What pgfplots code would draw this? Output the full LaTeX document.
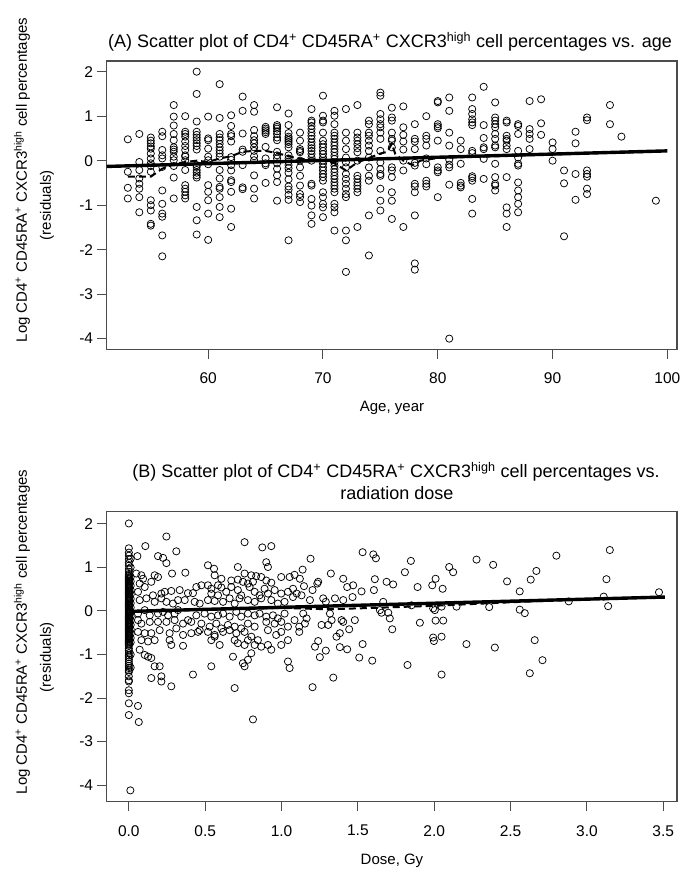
\documentclass[border=0pt]{standalone}
\usepackage{fontspec}
\setmainfont{Liberation Sans}
\usepackage{pgfplots}
\pgfplotsset{compat=1.18}
\begin{document}
\begin{tikzpicture}
\useasboundingbox (0pt,0pt) rectangle (683pt,-878pt);
\pgfplotsset{
 myax/.style={scale only axis, width=570.3pt,
  axis line style={black!70,line width=1.1pt},
  tick style={black!70,line width=1pt},
  major tick length=9.4pt, tick align=outside,
  xtick pos=bottom, ytick pos=left,
  ytick={-4,-3,-2,-1,0,1,2}, yticklabels={-4,-3,-2,-1,0,1,2},
  tick label style={font=\fontsize{15.5}{18}\selectfont},
  xticklabel style={inner sep=0pt, anchor=north, yshift=-14pt},
  yticklabel style={inner sep=0pt, anchor=east, xshift=-4pt},
  clip=false},
 pts/.style={only marks, mark=o, mark size=3.6pt, mark options={line width=0.75pt, black}},
 fitl/.style={no marks, black, line width=3.4pt},
 lowl/.style={no marks, black, line width=2pt, dash pattern=on 7pt off 4pt},
}
% ---------------- Panel A ----------------
\begin{axis}[myax, at={(106.7pt,-349.3pt)}, anchor=south west, height=288.3pt,
  xmin=51.16, xmax=100.84, ymin=-4.24, ymax=2.24,
  xtick={60,70,80,90,100}, xticklabels={60,70,80,90,100}]
\addplot[pts] coordinates {
(53,0.48) (53,-0.25) (53,-0.61) (53,-0.85)
(54,0.6) (54,-0.03) (54,-0.21) (54,-0.4) (54,-0.52) (54,-0.63) (54,-0.82) (54,-1.16)
(55,0.52) (55,0.45) (55,0.39) (55,0.32) (55,0.27) (55,0.16) (55,0.05) (55,-0.06) (55,-0.12) (55,-0.25) (55,-0.89) (55,-1.0) (55,-1.12) (55,-1.42) (55,-1.46)
(56,0.65) (56,0.55) (56,0.24) (56,0.12) (56,0.05) (56,-0.14) (56,-0.67) (56,-0.97) (56,-1.19) (56,-1.26) (56,-1.68) (56,-2.15)
(57,1.25) (57,0.99) (57,0.79) (57,0.6) (57,0.46) (57,0.3) (57,0.25) (57,0.2) (57,0.09) (57,0.01) (57,-0.12) (57,-0.38) (57,-0.85)
(58,1.0) (58,0.65) (58,0.6) (58,0.54) (58,0.43) (58,0.33) (58,0.24) (58,0.12) (58,0.09) (58,0.01) (58,-0.21) (58,-0.55) (58,-0.63) (58,-0.7) (58,-0.78) (58,-0.85)
(59,2.0) (59,1.5) (59,0.88) (59,0.65) (59,0.58) (59,0.52) (59,0.46) (59,0.39) (59,0.33) (59,0.25) (59,-0.1) (59,-0.14) (59,-0.21) (59,-0.27) (59,-0.33) (59,-0.38) (59,-1.04) (59,-1.34) (59,-1.66)
(60,0.99) (60,0.5) (60,0.46) (60,0.27) (60,0.09) (60,0.01) (60,-0.08) (60,-0.55) (60,-0.7) (60,-0.89) (60,-1.19) (60,-1.78)
(61,1.72) (61,0.96) (61,0.6) (61,0.52) (61,0.46) (61,0.38) (61,0.3) (61,0.23) (61,0.16) (61,0.09) (61,-0.21) (61,-0.4) (61,-0.59) (61,-0.63) (61,-0.82) (61,-1.04) (61,-1.27)
(62,1.02) (62,0.78) (62,0.6) (62,0.55) (62,0.43) (62,0.08) (62,0.02) (62,-0.1) (62,-0.22) (62,-0.44) (62,-0.48) (62,-0.7) (62,-1.08) (62,-1.49)
(63,1.44) (63,1.12) (63,0.61) (63,0.25) (63,0.2) (63,-0.1) (63,-0.6) (63,-0.64)
(64,1.25) (64,1.1) (64,0.69) (64,0.55) (64,0.46) (64,0.39) (64,0.3) (64,0.22) (64,0.1) (64,0.01) (64,-0.33) (64,-0.63) (64,-0.85)
(65,0.76) (65,0.72) (65,0.68) (65,0.64) (65,0.6) (65,0.31) (65,0.05) (65,-0.06) (65,-0.1) (65,-0.5)
(66,1.2) (66,0.8) (66,0.76) (66,0.72) (66,0.66) (66,0.6) (66,0.52) (66,0.46) (66,0.2) (66,0.12) (66,0.05) (66,-0.06) (66,-0.18) (66,-0.33) (66,-0.48) (66,-0.9)
(67,1.06) (67,0.8) (67,0.62) (67,0.54) (67,0.5) (67,0.46) (67,0.42) (67,0.37) (67,0.3) (67,0.12) (67,0.05) (67,-0.02) (67,-0.1) (67,-0.17) (67,-0.27) (67,-0.42) (67,-0.58) (67,-0.65) (67,-0.77) (67,-0.88) (67,-1.79)
(68,0.63) (68,0.45) (68,0.26) (68,0.22) (68,0.19) (68,0) (68,-0.15) (68,-0.34) (68,-0.56) (68,-0.75) (68,-0.82) (68,-0.93)
(69,1.16) (69,0.9) (69,0.86) (69,0.78) (69,0.71) (69,0.63) (69,0.56) (69,0.49) (69,0.41) (69,0.34) (69,0.28) (69,0.22) (69,0.15) (69,0.07) (69,0) (69,-0.52) (69,-0.56) (69,-0.86) (69,-1.01) (69,-1.23) (69,-1.42)
(70,1.46) (70,1.01) (70,0.9) (70,0.86) (70,0.63) (70,0.45) (70,0.37) (70,0.3) (70,0.22) (70,0.15) (70,0.07) (70,0) (70,-0.07) (70,-0.15) (70,-0.22) (70,-0.3) (70,-0.37) (70,-0.45) (70,-0.71) (70,-0.82) (70,-0.97) (70,-1.05) (70,-1.27)
(71,1.12) (71,1.01) (71,0.82) (71,0.63) (71,0.56) (71,0.49) (71,0.41) (71,0.34) (71,0.26) (71,0.19) (71,0.11) (71,0.04) (71,-0.04) (71,-0.11) (71,-0.19) (71,-0.26) (71,-0.34) (71,-0.41) (71,-0.49) (71,-0.56) (71,-0.63) (71,-0.71) (71,-0.97) (71,-1.05) (71,-1.16) (71,-1.57)
(72,1.16) (72,0.63) (72,0.45) (72,0.26) (72,0.07) (72,-0.04) (72,-0.15) (72,-0.3) (72,-0.41) (72,-0.52) (72,-0.63) (72,-0.75) (72,-0.82) (72,-1.57) (72,-1.79) (72,-2.5)
(73,1.25) (73,0.63) (73,0.52) (73,0.45) (73,0.37) (73,0.28) (73,0.19) (73,0) (73,-0.34) (73,-0.41) (73,-0.49) (73,-0.56) (73,-0.63) (73,-0.71) (73,-1.49)
(74,0.9) (74,0.82) (74,0.63) (74,0.56) (74,0.45) (74,0.34) (74,0.22) (74,0.07) (74,-0.15) (74,-0.34) (74,-0.45) (74,-1.23) (74,-2.13)
(75,1.53) (75,1.46) (75,1.05) (75,0.93) (75,0.82) (75,0.75) (75,0.63) (75,0.49) (75,0.22) (75,-0.04) (75,-0.19) (75,-0.3) (75,-0.34) (75,-0.63) (75,-0.9) (75,-1.12)
(76,1.19) (76,0.97) (76,0.9) (76,0.63) (76,0.49) (76,0.45) (76,0.3) (76,-0.15) (76,-0.22) (76,-0.37) (76,-0.71) (76,-0.9) (76,-1.31)
(77,1.22) (77,0.75) (77,0.58) (77,0.43) (77,0.25) (77,0) (77,-0.22) (77,-1.49)
(78,0.82) (78,0.49) (78,0.43) (78,0.26) (78,-0.05) (78,-0.11) (78,-0.52) (78,-0.58) (78,-0.71) (78,-1.23) (78,-2.31) (78,-2.45)
(79,1.0) (79,0.56) (79,0.49) (79,0.34) (79,0.05) (79,-0.08) (79,-0.45) (79,-0.52) (79,-0.58)
(80,1.34) (80,1.31) (80,0.82) (80,0.77) (80,0.73) (80,0.45) (80,-0.15) (80,-0.22) (80,-0.26) (80,-0.82)
(81,1.42) (81,1.12) (81,0.63) (81,0.34) (81,0.02) (81,-0.09) (81,-0.15) (81,-0.54) (81,-4.0)
(82,0.45) (82,0.26) (82,-0.07) (82,-0.5) (82,-0.56) (82,-0.6)
(83,1.42) (83,1.16) (83,1.05) (83,0.93) (83,0.86) (83,0.8) (83,0.22) (83,0.17) (83,-0.35) (83,-0.39) (83,-0.45) (83,-0.86) (83,-1.19)
(84,1.66) (84,0.8) (84,0.51) (84,0.3) (84,0.26) (84,0.04) (84,-0.41)
(85,1.31) (85,0.97) (85,0.9) (85,0.82) (85,0.75) (85,0.6) (85,0.49) (85,0.34) (85,0.3) (85,-0.07) (85,-0.37) (85,-0.52) (85,-0.56) (85,-0.67)
(86,0.9) (86,0.86) (86,0.56) (86,0.49) (86,0.45) (86,0.34) (86,0.26) (86,-0.37) (86,-1.05) (86,-1.19) (86,-1.49)
(87,0.82) (87,0.78) (87,0.6) (87,0.22) (87,0.07) (87,-0.07) (87,-0.11) (87,-0.49) (87,-0.67) (87,-0.82) (87,-0.97) (87,-1.16)
(88,1.34) (88,0.71) (88,0.6) (88,0.49) (88,0.26)
(89,1.38) (89,0.84) (89,0.58)
(90,0.41) (90,0.26) (90,0.0)
(91,-0.22) (91,-0.51) (91,-1.7)
(92,0.65) (92,0.39) (92,-0.3) (92,-0.88)
(93,0.97) (93,0.91) (93,-0.22) (93,-0.3) (93,-0.36) (93,-0.63) (93,-0.75)
(95,1.25) (95,0.82) (96,0.54) (99,-0.9)
};
\addplot[fitl] coordinates {(51.16,-0.13) (100.0,0.22)};
\addplot[lowl] coordinates {(53,-0.36) (55,-0.36) (56,-0.18) (57,-0.08) (58,-0.03) (59,0.0) (60,-0.03) (61,0.05) (62,0.1) (63,0.2) (64,0.22) (65,0.22) (66,0.17) (67,0.1) (68,0.04) (69,0.03) (70,0.02) (71,-0.06) (72,-0.22) (73,-0.04) (74,0.06) (75,0.16) (75.6,0.2) (76,0.38) (76.3,0.15) (77,0.0) (77.8,-0.1) (78.5,0.0) (80,0.06) (82,0.08) (85,0.1) (90,0.14) (95,0.18) (99,0.2)};
\end{axis}
% ---------------- Panel B ----------------
\begin{axis}[myax, at={(106.7pt,-801.7pt)}, anchor=south west, height=290pt,
  xmin=-0.145, xmax=3.59, ymin=-4.38, ymax=2.28,
  xtick={0,0.5,1,1.5,2,2.5,3,3.5}, xticklabels={0.0,0.5,1.0,1.5,2.0,2.5,3.0,3.5}]
\addplot[pts] coordinates {
(0,2.01) (0,1.44) (0,1.34) (0,1.27) (0,1.19) (0,1.11) (0,1.04) (0,0.96) (0,0.9)
(0,0.85) (0,0.825) (0,0.8) (0,0.775) (0,0.75) (0,0.725) (0,0.7) (0,0.675) (0,0.65) (0,0.625) (0,0.6) (0,0.575) (0,0.55) (0,0.525) (0,0.5) (0,0.475) (0,0.45) (0,0.425) (0,0.4) (0,0.375) (0,0.35) (0,0.325) (0,0.3) (0,0.275) (0,0.25) (0,0.225) (0,0.2) (0,0.175) (0,0.15) (0,0.125) (0,0.1) (0,0.075) (0,0.05) (0,0.025) (0,0)
(0,-0.025) (0,-0.05) (0,-0.075) (0,-0.1) (0,-0.125) (0,-0.15) (0,-0.175) (0,-0.2) (0,-0.225) (0,-0.25) (0,-0.275) (0,-0.3) (0,-0.325) (0,-0.35) (0,-0.375) (0,-0.4) (0,-0.425) (0,-0.45) (0,-0.475) (0,-0.5) (0,-0.525) (0,-0.55) (0,-0.575) (0,-0.6) (0,-0.625) (0,-0.65) (0,-0.675) (0,-0.7) (0,-0.725) (0,-0.75) (0,-0.775) (0,-0.8)
(0,-0.86) (0,-0.91) (0,-0.97) (0,-1.02) (0,-1.06) (0,-1.11) (0,-1.16) (0,-1.21) (0,-1.26) (0,-1.31) (0,-1.36) (0,-1.4) (0,-1.5) (0,-1.59) (0,-1.62) (0,-1.82) (0,-1.89) (0,-2.12) (0,-2.39)
(0.012,1.2) (0.012,1.0) (0.012,0.78) (0.012,0.68) (0.012,0.58) (0.012,0.48) (0.012,0.38) (0.012,0.28) (0.012,0.18) (0.012,0.08) (0.012,-0.02) (0.012,-0.12) (0.012,-0.22) (0.012,-0.32) (0.012,-0.42) (0.012,-0.52) (0.012,-0.62) (0.012,-0.72) (0.012,-1.0) (0.012,-1.3)
(0.01,-4.12) (0.06,-2.18) (0.065,-2.55)
(0.108,1.49) (0.246,1.71) (0.311,1.37) (0.056,1.26) (0.191,1.26) (0.224,1.22) (0.246,1.10) (0.758,1.58) (0.874,1.46) (0.933,1.49) (0.518,1.05) (0.558,0.97) (0.714,1.01) (0.9,1.12) (0.911,1.01) (0.37,0.88) (0.283,0.86) (0.169,0.82) (0.191,0.78) (0.562,0.82) (0.606,0.74) (0.758,0.86) (0.802,0.82) (0.834,0.80) (0.867,0.78) (0.9,0.70) (0.933,0.65) (0.998,0.78) (1.053,0.78) (1.085,0.83) (0.671,0.70) (0.714,0.72) (0.747,0.67) (0.78,0.63) (0.813,0.67) (0.049,0.86) (0.082,0.82) (0.093,0.74) (0.071,0.63) (0.147,0.67) (0.104,0.55) (0.06,0.44) (0.158,0.36) (0.213,0.40) (0.235,0.44) (0.278,0.46) (0.333,0.48) (0.387,0.41) (0.42,0.41) (0.442,0.55) (0.475,0.59) (0.518,0.59) (0.54,0.51) (0.584,0.59) (0.606,0.54) (0.54,0.40) (0.584,0.36) (0.638,0.44) (0.671,0.55) (0.714,0.48) (0.736,0.36) (0.791,0.55) (0.824,0.44) (0.856,0.36) (0.889,0.51) (0.911,0.40) (0.955,0.48) (0.998,0.40) (1.042,0.44) (1.075,0.51)
(0.071,0.25) (0.115,0.29) (0.169,0.21) (0.213,0.29) (0.246,0.21) (0.289,0.17) (0.322,0.25) (0.366,0.25) (0.431,0.21) (0.464,0.17) (0.518,0.25) (0.562,0.23) (0.617,0.21) (0.66,0.29) (0.693,0.17) (0.725,0.29) (0.78,0.25) (0.824,0.21) (0.867,0.29) (0.933,0.25) (0.976,0.17) (1.02,0.21) (1.075,0.32)
(0.06,-0.06) (0.104,0.02) (0.137,-0.10) (0.191,-0.06) (0.224,-0.02) (0.257,-0.10) (0.3,-0.06) (0.322,0.02) (0.387,-0.21) (0.442,-0.10) (0.496,-0.06) (0.54,-0.13) (0.584,-0.10) (0.617,-0.06) (0.66,-0.13) (0.704,-0.02) (0.736,-0.13) (0.78,-0.06) (0.824,-0.10) (0.856,-0.06) (0.9,-0.13) (0.944,-0.10) (0.976,-0.17) (1.02,-0.06) (1.085,-0.21)
(0.06,-0.21) (0.082,-0.29) (0.137,-0.25) (0.191,-0.25) (0.246,-0.25) (0.3,-0.21) (0.355,-0.29) (0.409,-0.25) (0.475,-0.29) (0.529,-0.36) (0.573,-0.29) (0.606,-0.40) (0.649,-0.32) (0.693,-0.36) (0.736,-0.40) (0.78,-0.29) (0.824,-0.36) (0.9,-0.25) (0.955,-0.29) (0.998,-0.25) (1.042,-0.36)
(0.06,-0.48) (0.104,-0.51) (0.147,-0.51) (0.202,-0.44) (0.267,-0.51) (0.311,-0.40) (0.355,-0.55) (0.409,-0.51) (0.464,-0.44) (0.518,-0.48) (0.562,-0.55) (0.617,-0.48) (0.66,-0.44) (0.704,-0.51) (0.758,-0.48) (0.802,-0.59) (0.845,-0.67) (0.911,-0.44) (0.965,-0.55) (0.998,-0.48)
(0.082,-0.67) (0.126,-0.70) (0.169,-0.67) (0.267,-0.67) (0.278,-0.78) (0.355,-0.80) (0.453,-0.48) (0.54,-0.67) (0.562,-0.59) (0.595,-0.78) (0.693,-0.67) (0.714,-0.74) (0.758,-0.78) (0.78,-0.67) (0.824,-0.78) (0.867,-0.82) (0.911,-0.78) (0.933,-0.89) (0.998,-0.78) (1.042,-0.67)
(0.071,-0.89) (0.104,-1.01) (0.126,-1.05) (0.147,-1.08) (0.169,-1.27) (0.202,-1.27) (0.147,-1.54) (0.213,-1.50) (0.213,-1.62) (0.278,-1.73) (0.42,-1.46) (0.54,-1.27) (0.682,-1.05) (0.693,-1.77) (0.747,-1.20) (0.758,-1.27) (0.78,-1.12) (0.802,-0.97) (1.042,-1.16) (1.053,-1.31) (0.813,-2.49)
(1.531,1.35) (1.601,1.30) (1.618,1.21) (1.847,1.15) (2.277,1.18) (1.19,1.20) (2.098,1.01) (2.124,0.89) (1.808,0.89) (2.009,0.74) (1.987,0.59) (1.891,0.55) (2.055,0.51) (1.688,0.67) (1.731,0.61) (1.611,0.73) (1.404,0.74) (1.469,0.59) (1.43,0.55) (1.524,0.45) (1.605,0.48) (1.323,0.86) (1.24,0.67) (1.234,0.63) (1.203,0.48) (1.147,0.57) (1.138,0.95) (1.12,0.74) (1.186,0.25) (1.099,0.40) (1.131,0.36) (1.273,0.29) (1.29,0.21) (1.35,0.29) (1.404,0.25) (1.465,0.32) (1.666,0.21) (1.851,0.13) (1.993,0.06) (2.004,0.02) (2.048,0.10) (2.146,0.10)
(1.142,-0.06) (1.164,-0.17) (1.116,-0.36) (1.153,-0.29) (1.116,-0.48) (1.317,-0.06) (1.328,-0.21) (1.306,-0.32) (1.262,-0.32) (1.393,-0.21) (1.404,-0.25) (1.48,-0.21) (1.644,0.02) (1.655,-0.04) (1.699,-0.04) (1.709,-0.17) (1.725,-0.42) (1.906,-0.27) (2.009,-0.22) (2.059,-0.22) (1.443,-0.42) (1.382,-0.51) (1.36,-0.59) (1.24,-0.69) (1.219,-0.82) (1.29,-0.91) (1.251,-1.06) (1.382,-0.83) (1.43,-0.88) (1.531,-0.76) (1.509,-1.07) (1.594,-1.14) (1.993,-0.61) (1.998,-0.69) (2.048,-0.59) (2.211,-0.76) (1.825,-1.24) (2.048,-1.46) (1.339,-1.53) (1.203,-1.75)
(2.36,0.09) (2.386,1.06) (2.397,-0.84) (2.477,0.68) (2.56,0.45) (2.56,0.03) (2.593,-0.05) (2.626,-1.43) (2.632,0.72) (2.658,-0.67) (2.669,0.92) (2.709,-1.13) (2.8,1.27) (2.881,0.22) (3.11,0.33) (3.128,0.73) (3.139,0.11) (3.15,1.40) (3.472,0.43)
};
\addplot[fitl] coordinates {(0,-0.01) (3.51,0.32)};
\addplot[lowl] coordinates {(0,-0.02) (0.3,0.01) (0.6,0.04) (1.0,0.07) (1.3,0.04) (1.6,0.07) (2.0,0.12) (2.5,0.2) (3.0,0.27) (3.47,0.32)};
\end{axis}
% ---------------- texts ----------------
\node[font=\fontsize{18}{21.6}\selectfont] at (390pt,-42pt) {(A) Scatter plot of CD4\textsuperscript{+} CD45RA\textsuperscript{+} CXCR3\textsuperscript{high} cell percentages vs. age};
\node[font=\fontsize{15}{18}\selectfont] at (392pt,-408pt) {Age, year};
\node[rotate=90,font=\fontsize{15}{18}\selectfont] at (22pt,-180pt) {Log CD4\textsuperscript{+} CD45RA\textsuperscript{+} CXCR3\textsuperscript{high} cell percentages};
\node[rotate=90,font=\fontsize{15}{18}\selectfont] at (47pt,-205pt) {(residuals)};
\node[font=\fontsize{18}{21.6}\selectfont] at (396pt,-471.5pt) {(B) Scatter plot of CD4\textsuperscript{+} CD45RA\textsuperscript{+} CXCR3\textsuperscript{high} cell percentages vs.};
\node[font=\fontsize{18}{21.6}\selectfont] at (397pt,-493.5pt) {radiation dose};
\node[font=\fontsize{15}{18}\selectfont] at (392pt,-861pt) {Dose, Gy};
\node[rotate=90,font=\fontsize{15}{18}\selectfont] at (22pt,-632pt) {Log CD4\textsuperscript{+} CD45RA\textsuperscript{+} CXCR3\textsuperscript{high} cell percentages};
\node[rotate=90,font=\fontsize{15}{18}\selectfont] at (47pt,-657pt) {(residuals)};
\end{tikzpicture}
\end{document}
